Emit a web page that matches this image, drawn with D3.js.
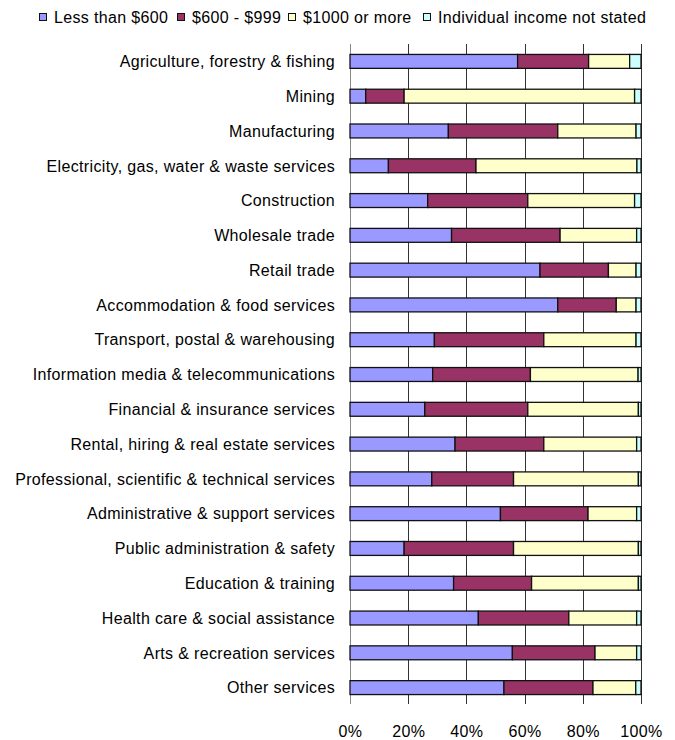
<!DOCTYPE html>
<html>
<head>
<meta charset="utf-8">
<script src="https://cdn.jsdelivr.net/npm/d3@7"></script>
<style>
  html, body { margin: 0; padding: 0; background: #fff; }
  svg { display: block; font-family: "Liberation Sans", Arial, sans-serif; }
</style>
</head>
<body>
<svg id="chart" width="675" height="740"></svg>
<script>
const categories = [
  "Agriculture, forestry & fishing",
  "Mining",
  "Manufacturing",
  "Electricity, gas, water & waste services",
  "Construction",
  "Wholesale trade",
  "Retail trade",
  "Accommodation & food services",
  "Transport, postal & warehousing",
  "Information media & telecommunications",
  "Financial & insurance services",
  "Rental, hiring & real estate services",
  "Professional, scientific & technical services",
  "Administrative & support services",
  "Public administration & safety",
  "Education & training",
  "Health care & social assistance",
  "Arts & recreation services",
  "Other services"
];
const seriesNames = ["Less than $600", "$600 - $999", "$1000 or more", "Individual income not stated"];
const lessThan600 = [57.6, 5.4, 33.8, 13.2, 26.7, 34.9, 65.3, 71.4, 29.0, 28.4, 25.7, 36.1, 28.1, 51.7, 18.6, 35.6, 44.1, 55.8, 52.9];
const from600to999 = [24.4, 13.2, 37.6, 30.1, 34.4, 37.3, 23.5, 20.1, 37.6, 33.6, 35.4, 30.5, 28.1, 30.1, 37.6, 26.8, 31.1, 28.4, 30.6];
const over1000 = [14.1, 79.2, 26.9, 55.3, 36.7, 26.3, 9.5, 6.8, 31.7, 37.0, 38.0, 31.9, 42.9, 16.7, 42.9, 36.7, 23.3, 14.3, 14.7];
const notStated = [3.9, 2.2, 1.7, 1.4, 2.2, 1.5, 1.7, 1.7, 1.7, 1.0, 0.9, 1.5, 0.9, 1.5, 0.9, 0.9, 1.5, 1.5, 1.8];
const tickValues = [0, 0.2, 0.4, 0.6, 0.8, 1.0];
const colors = ["#9999FF", "#993366", "#FFFFCC", "#CCFFFF"];

const rows = categories.map((c, i) => {
  const vals = [lessThan600[i], from600to999[i], over1000[i], notStated[i]];
  const tot = d3.sum(vals);
  const r = { category: c };
  seriesNames.forEach((s, k) => r[s] = vals[k] / tot);
  return r;
});

const svg = d3.select("#chart");
const plot = { left: 350, right: 641, top: 44, bottom: 705 };
const FS = 16, LS = "0.35px";

const x = d3.scaleLinear().domain([0, 1]).range([plot.left, plot.right]);
const y = d3.scaleBand().domain(categories).range([plot.top, plot.bottom])
  .paddingInner(0.6).paddingOuter(0.3);

// gridlines
svg.append("g").selectAll("line").data(tickValues).join("line")
  .attr("x1", d => Math.round(x(d)) + 0.5).attr("x2", d => Math.round(x(d)) + 0.5)
  .attr("y1", plot.top).attr("y2", plot.bottom - 1)
  .attr("stroke", d => d === 0 ? "#888" : "#333").attr("stroke-width", 1);

// bars
const stack = d3.stack().keys(seriesNames)(rows);
svg.append("g").selectAll("g").data(stack).join("g")
  .attr("fill", (d, i) => colors[i])
  .selectAll("rect").data(d => d).join("rect")
  .attr("x", d => x(d[0]))
  .attr("width", d => x(d[1]) - x(d[0]))
  .attr("y", d => y(d.data.category))
  .attr("height", y.bandwidth())
  .attr("stroke", "#111").attr("stroke-width", 1.3);

// category labels
svg.append("g").selectAll("text").data(categories).join("text")
  .attr("x", plot.left - 15)
  .attr("y", d => y(d) + y.bandwidth() / 2)
  .attr("dy", "0.36em")
  .attr("text-anchor", "end")
  .attr("font-size", FS)
  .attr("letter-spacing", LS)
  .attr("fill", "#000")
  .text(d => d);

// x axis
const xAxis = d3.axisBottom(x).tickValues(tickValues).tickFormat(d3.format(".0%")).tickSize(0).tickPadding(21);
const gx = svg.append("g").attr("transform", `translate(0,${plot.bottom})`).call(xAxis);
gx.select(".domain").remove();
gx.selectAll("text").attr("font-size", FS).attr("letter-spacing", LS)
  .attr("font-family", "Liberation Sans, Arial, sans-serif").attr("fill", "#000");

// legend
const legendX = [39, 177, 288, 423];
const lg = svg.append("g").selectAll("g").data(seriesNames).join("g")
  .attr("transform", (d, i) => `translate(${legendX[i]},17)`);
lg.append("rect").attr("x", 0.5).attr("y", -3.5).attr("width", 7).attr("height", 7)
  .attr("fill", (d, i) => colors[i]).attr("stroke", "#111").attr("stroke-width", 1);
lg.append("text").attr("x", 15).attr("y", 0).attr("dy", "0.36em")
  .attr("font-size", FS).attr("letter-spacing", LS).attr("fill", "#000").text(d => d);
</script>
</body>
</html>
